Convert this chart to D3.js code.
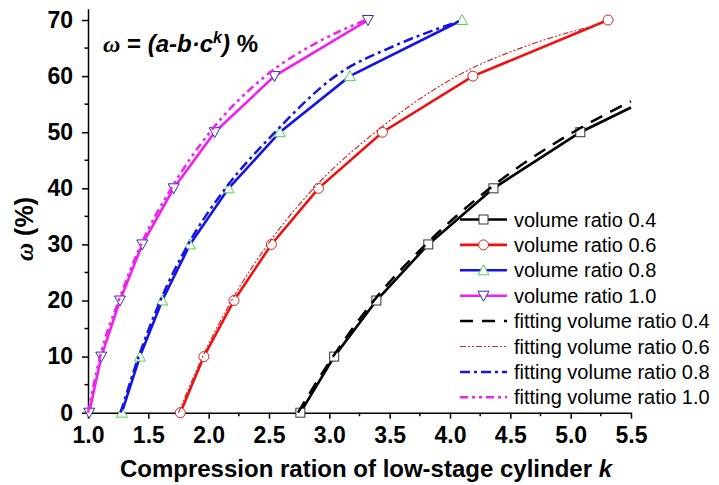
<!DOCTYPE html>
<html lang="en">
  <head>
    <meta charset="UTF-8" />
    <title>Compression ratio vs omega</title>
    <script src="https://d3js.org/d3.v7.min.js"></script>
    <style>
      body { margin: 0; background: #fff; }
      svg { display: block; font-family: Arial, "Liberation Sans", sans-serif; }
    </style>
  </head>
  <body>
    <div id="chart"></div>

    <script>
      // measured data (k = compression ratio, w = omega %)
      const k04 = [2.76, 3.04, 3.39, 3.82, 4.36, 5.08, 5.5];
      const w04 = [0, 10, 20, 30, 40, 50, 54.4];
      const k06 = [1.765, 1.96, 2.21, 2.52, 2.91, 3.44, 4.19, 5.31];
      const w06 = [0, 10, 20, 30, 40, 50, 60, 70];
      const k08 = [1.28, 1.43, 1.615, 1.845, 2.165, 2.59, 3.17, 4.1];
      const w08 = [0, 10, 20, 30, 40, 50, 60, 70];
      const k10 = [1.01, 1.11, 1.265, 1.45, 1.71, 2.05, 2.545, 3.32];
      const w10 = [0, 10, 20, 30, 40, 50, 60, 70];

      // fitted curves
      const fk04 = [2.74, 3.03, 3.37, 3.8, 4.33, 5.02, 5.5];
      const fw04 = [0, 10, 20, 30, 40, 50, 55.5];
      const fk06 = [1.75, 1.95, 2.19, 2.49, 2.87, 3.38, 4.1, 4.65, 5.25];
      const fw06 = [0, 10, 20, 30, 40, 50, 60.5, 65.5, 69.3];
      const fk08 = [1.27, 1.42, 1.6, 1.83, 2.14, 2.55, 3.05, 3.55, 4.08];
      const fw08 = [0, 10, 20, 30, 40, 50, 60, 65.5, 69.8];
      const fk10 = [1.0, 1.1, 1.255, 1.44, 1.69, 2.01, 2.47, 2.9, 3.3];
      const fw10 = [0, 10, 20, 30, 40, 50, 60, 66, 70];

      const xTicks = [1.0, 1.5, 2.0, 2.5, 3.0, 3.5, 4.0, 4.5, 5.0, 5.5];
      const yTicks = [0, 10, 20, 30, 40, 50, 60, 70];

      const series = [
        { name: "volume ratio 0.4", k: k04, w: w04, color: "#000000", symbol: "square", stroke: "#333" },
        { name: "volume ratio 0.6", k: k06, w: w06, color: "#f01010", symbol: "circle", stroke: "#e02020" },
        { name: "volume ratio 0.8", k: k08, w: w08, color: "#1414e6", symbol: "up", stroke: "#50d050" },
        { name: "volume ratio 1.0", k: k10, w: w10, color: "#ee22ee", symbol: "down", stroke: "#3030b0" },
      ];
      const fits = [
        { name: "fitting volume ratio 0.4", k: fk04, w: fw04, color: "#000000", width: 2.5, dash: "13,9" },
        { name: "fitting volume ratio 0.6", k: fk06, w: fw06, color: "#c83030", width: 1.2, dash: "6,2,2,2,2,2" },
        { name: "fitting volume ratio 0.8", k: fk08, w: fw08, color: "#1414e6", width: 2.5, dash: "10,4,3,4" },
        { name: "fitting volume ratio 1.0", k: fk10, w: fw10, color: "#ee22ee", width: 2.5, dash: "8,4,3,4,3,4" },
      ];

      const W = 719, H = 485;
      const svg = d3.select("#chart").append("svg").attr("width", W).attr("height", H);
      svg.append("rect").attr("width", W).attr("height", H).attr("fill", "#fff");

      const x = d3.scaleLinear().domain([1, 5.5]).range([88, 631]);
      const y = d3.scaleLinear().domain([0, 72]).range([412.7, 8.8]);

      // minor ticks
      const xMinor = d3.range(1.25, 5.5, 0.5);
      const yMinor = d3.range(5, 72, 10);

      const xAxis = svg.append("g").attr("transform", `translate(0,${y(0)})`)
        .call(d3.axisBottom(x).tickValues(xTicks).tickFormat(d3.format(".1f")).tickSize(6).tickPadding(8).tickSizeOuter(0));
      xAxis.append("g").selectAll("line").data(xMinor).join("line")
        .attr("x1", (d) => x(d)).attr("x2", (d) => x(d)).attr("y1", 0).attr("y2", 3.5)
        .attr("stroke", "#000").attr("stroke-width", 1.5);

      const yAxis = svg.append("g").attr("transform", `translate(${x(1)},0)`)
        .call(d3.axisLeft(y).tickValues(yTicks).tickSize(6).tickPadding(9).tickSizeOuter(0));
      yAxis.append("g").selectAll("line").data(yMinor).join("line")
        .attr("y1", (d) => y(d)).attr("y2", (d) => y(d)).attr("x1", 0).attr("x2", -3.5)
        .attr("stroke", "#000").attr("stroke-width", 1.5);

      [xAxis, yAxis].forEach((a) => {
        a.selectAll(".domain").attr("stroke-width", 1.5);
        a.selectAll(".tick line").attr("stroke-width", 1.5);
        a.selectAll("text").attr("font-size", 23).attr("font-weight", "bold")
          .attr("font-family", "Arial, 'Liberation Sans', sans-serif").attr("fill", "#000");
      });

      const line = d3.line().x((d) => x(d[0])).y((d) => y(d[1]));
      const smooth = d3.line().x((d) => x(d[0])).y((d) => y(d[1])).curve(d3.curveMonotoneX);
      const pts = (s) => s.k.map((k, i) => [k, s.w[i]]);

      function symbol(g, type, stroke, cx, cy) {
        if (type === "square") {
          g.append("rect").attr("x", cx - 4.5).attr("y", cy - 4.5).attr("width", 9).attr("height", 9)
            .attr("fill", "#fff").attr("stroke", stroke).attr("stroke-width", 1);
        } else if (type === "circle") {
          g.append("circle").attr("cx", cx).attr("cy", cy).attr("r", 5)
            .attr("fill", "#fff").attr("stroke", stroke).attr("stroke-width", 1);
        } else {
          const s = type === "up" ? -1 : 1;
          const p = [[cx - 5.5, cy - s * 4.5], [cx + 5.5, cy - s * 4.5], [cx, cy + s * 5.5]];
          g.append("path").attr("d", "M" + p.join("L") + "Z")
            .attr("fill", "#fff").attr("stroke", stroke).attr("stroke-width", 1);
        }
      }

      // data lines and markers
      const plot = svg.append("g");
      series.forEach((s) => {
        plot.append("path").attr("d", line(pts(s))).attr("fill", "none")
          .attr("stroke", s.color).attr("stroke-width", 2.6);
      });
      series.forEach((s) => {
        pts(s).filter((p) => p[1] % 10 === 0).forEach((p) => symbol(plot, s.symbol, s.stroke, x(p[0]), y(p[1])));
      });
      fits.forEach((f) => {
        plot.append("path").attr("d", smooth(pts(f))).attr("fill", "none")
          .attr("stroke", f.color).attr("stroke-width", f.width).attr("stroke-dasharray", f.dash);
      });

      // legend
      const legend = svg.append("g");
      const rows = [...series.map((s) => ({ ...s, fit: false })), ...fits.map((f) => ({ ...f, fit: true }))];
      rows.forEach((r, i) => {
        const cy = 219.5 + i * 25.4;
        const g = legend.append("g");
        if (r.fit) {
          g.append("line").attr("x1", 460).attr("x2", 507).attr("y1", cy).attr("y2", cy)
            .attr("stroke", r.color).attr("stroke-width", r.width).attr("stroke-dasharray", r.dash);
        } else {
          g.append("line").attr("x1", 460).attr("x2", 507).attr("y1", cy).attr("y2", cy)
            .attr("stroke", r.color).attr("stroke-width", 2.6);
          symbol(g, r.symbol, r.stroke, 483.5, cy);
        }
        g.append("text").attr("x", 514).attr("y", cy).attr("dy", "0.35em")
          .attr("font-size", 20).attr("fill", "#000").text(r.name);
      });

      // formula
      const f = svg.append("text").attr("x", 103).attr("y", 52).attr("font-size", 24)
        .attr("font-weight", "bold").attr("fill", "#000");
      f.append("tspan").attr("font-family", "'Liberation Serif', serif").attr("font-style", "italic").text("ω");
      f.append("tspan").text(" = ");
      f.append("tspan").attr("font-style", "italic").text("(a-b·c");
      f.append("tspan").attr("font-style", "italic").attr("font-size", 16).attr("dy", -9).text("k");
      f.append("tspan").attr("font-style", "italic").attr("dy", 9).text(")");
      f.append("tspan").text(" %");

      // axis titles
      svg.append("text").attr("x", 366).attr("y", 477).attr("text-anchor", "middle")
        .attr("font-size", 24).attr("font-weight", "bold").attr("fill", "#000")
        .text("Compression ration of low-stage cylinder ")
        .append("tspan").attr("font-style", "italic").text("k");

      const yt = svg.append("text").attr("transform", "translate(33,229) rotate(-90)")
        .attr("text-anchor", "middle").attr("font-size", 25).attr("font-weight", "bold").attr("fill", "#000");
      yt.append("tspan").attr("font-family", "'Liberation Serif', serif").attr("font-style", "italic").text("ω");
      yt.append("tspan").text(" (%)");
    </script>
  </body>
</html>
